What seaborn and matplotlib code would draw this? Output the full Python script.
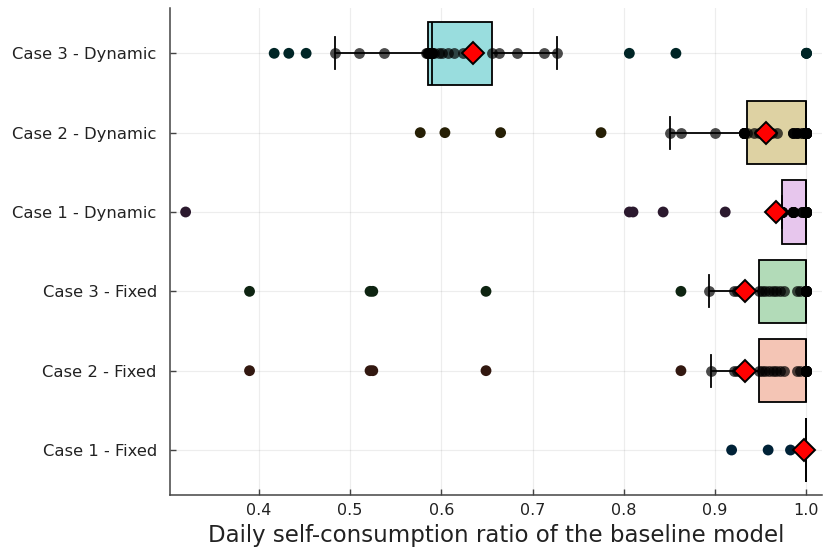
import numpy as np
import pandas as pd
import matplotlib
matplotlib.use("Agg")
import matplotlib.pyplot as plt
import seaborn as sns
from matplotlib.colors import to_rgb

# Category order, top to bottom
cases = ["Case 3 - Dynamic", "Case 2 - Dynamic", "Case 1 - Dynamic",
         "Case 3 - Fixed", "Case 2 - Fixed", "Case 1 - Fixed"]

# Daily self-consumption ratios: distinct values and the number of days at each
case3_dyn_values = [0.417, 0.433, 0.452, 0.484, 0.510, 0.537, 0.583, 0.584, 0.585, 0.586,
                    0.587, 0.588, 0.589, 0.590, 0.592, 0.597, 0.601, 0.607, 0.614, 0.624,
                    0.630, 0.638, 0.656, 0.663, 0.683, 0.712, 0.727, 0.806, 0.857, 1.0]
case3_dyn_days = [1, 1, 1, 1, 1, 1, 1, 1, 1, 1,
                  2, 2, 2, 3, 1, 1, 1, 1, 1, 1,
                  1, 1, 1, 1, 1, 1, 1, 1, 1, 3]

case2_dyn_values = [0.577, 0.604, 0.665, 0.775, 0.850, 0.8625, 0.900, 0.932, 0.935, 0.943,
                    0.948, 0.953, 0.958, 0.962, 0.968, 0.985, 0.990, 0.995, 1.0]
case2_dyn_days = [1, 1, 1, 1, 1, 1, 1, 8, 1, 1,
                  1, 1, 1, 1, 1, 3, 3, 2, 31]

case1_dyn_values = [0.320, 0.806, 0.810, 0.843, 0.911, 0.9734, 0.9855, 0.995, 1.0]
case1_dyn_days = [1, 1, 1, 1, 1, 8, 8, 3, 25]

case3_fix_values = [0.390, 0.522, 0.525, 0.649, 0.8625, 0.8937, 0.921, 0.924, 0.928, 0.931,
                    0.9485, 0.951, 0.955, 0.959, 0.963, 0.967, 0.971, 0.975, 0.990, 0.993, 1.0]
case3_fix_days = [1] * 20 + [21]

case2_fix_values = [0.390, 0.522, 0.525, 0.649, 0.8625, 0.8955, 0.921, 0.924, 0.928, 0.931,
                    0.9485, 0.951, 0.955, 0.959, 0.963, 0.967, 0.971, 0.975, 0.990, 0.993, 1.0]
case2_fix_days = [1] * 20 + [21]

case1_fix_values = [0.918, 0.958, 0.9825, 1.0]
case1_fix_days = [1, 1, 1, 41]

series_colors = ["#00A9AD", "#AC8E18", "#C371D2", "#3EA44E", "#E36F47", "#009AFA"]

tick_values = [0.4, 0.5, 0.6, 0.7, 0.8, 0.9, 1.0]
tick_labels = ["0.4", "0.5", "0.6", "0.7", "0.8", "0.9", "1.0"]

# ---- tidy table -------------------------------------------------------------
groups = [
    (cases[0], case3_dyn_values, case3_dyn_days),
    (cases[1], case2_dyn_values, case2_dyn_days),
    (cases[2], case1_dyn_values, case1_dyn_days),
    (cases[3], case3_fix_values, case3_fix_days),
    (cases[4], case2_fix_values, case2_fix_days),
    (cases[5], case1_fix_values, case1_fix_days),
]
df = pd.concat(
    [pd.DataFrame({"case": name, "ratio": np.repeat(vals, days)}) for name, vals, days in groups],
    ignore_index=True,
)


def beyond_whiskers(s):
    q1, q3 = np.percentile(s, [25, 75])
    iqr = q3 - q1
    return (s < q1 - 1.5 * iqr) | (s > q3 + 1.5 * iqr)


df["outlier"] = df.groupby("case")["ratio"].transform(beyond_whiskers).astype(bool)

white = np.ones(3)
fill_colors = [tuple(0.4 * np.array(to_rgb(c)) + 0.6 * white) for c in series_colors]
dark_colors = [tuple(0.22 * np.array(to_rgb(c))) for c in series_colors]

# ---- figure -----------------------------------------------------------------
fig = plt.figure(figsize=(8.24, 5.54), dpi=100)
ax = fig.add_axes([170 / 824, 1 - 495 / 554, (822 - 170) / 824, (495 - 8) / 554])

sns.boxplot(data=df, x="ratio", y="case", hue="case", order=cases, hue_order=cases,
            palette=fill_colors, saturation=1, width=0.8, whis=1.5, showfliers=False,
            linecolor="black", linewidth=1.3, dodge=False, legend=False, ax=ax)

# days beyond the whiskers, in a dark shade of the case colour
sns.stripplot(data=df[df["outlier"]], x="ratio", y="case", hue="case", order=cases,
              hue_order=cases, palette=dark_colors, jitter=False, size=7.8,
              linewidth=0, legend=False, zorder=4, ax=ax)
# days within the whiskers
sns.stripplot(data=df[~df["outlier"]], x="ratio", y="case", order=cases, color="black",
              alpha=0.7, jitter=False, size=7.8, linewidth=0, zorder=4, ax=ax)

# mean of each case
sns.pointplot(data=df, x="ratio", y="case", order=cases, estimator="mean",
              errorbar=None, linestyle="none", marker="D", markersize=11.5,
              color="red", markeredgecolor="black", markeredgewidth=1.4,
              zorder=6, ax=ax)

ax.set_xlim(0.3029, 1.017)
ax.set_ylim(5.567, -0.571)
ax.set_xticks(tick_values)
ax.set_xticklabels(tick_labels)
ax.set_xlabel("Daily self-consumption ratio of the baseline model", fontsize=16.5,
              color="#222222", labelpad=4)
ax.set_ylabel("")

ax.grid(True, color="black", alpha=0.07, linewidth=0.9)
ax.set_axisbelow(True)
for side in ("top", "right"):
    ax.spines[side].set_visible(False)
for side in ("left", "bottom"):
    ax.spines[side].set_color("#444444")
    ax.spines[side].set_linewidth(1.1)
ax.tick_params(axis="both", direction="in", length=4, width=1, color="#444444",
               labelsize=11.5, labelcolor="#222222")
ax.tick_params(axis="y", pad=9.5, labelsize=11.8)
ax.tick_params(axis="x", pad=6)

fig.savefig("out.png", dpi=100)
